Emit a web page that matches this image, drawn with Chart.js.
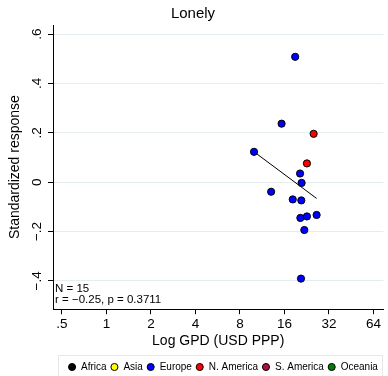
<!DOCTYPE html>
<html>
<head>
<meta charset="utf-8">
<script src="https://cdn.jsdelivr.net/npm/chart.js@4.4.1/dist/chart.umd.min.js"></script>
<style>
  html, body { margin: 0; padding: 0; background: #fff; }
  canvas { display: block; }
</style>
</head>
<body>
<canvas id="c" width="388" height="376"></canvas>
<script>
// ---- data ----
const chartTitle = "Lonely";
const xAxisTitle = "Log GPD (USD PPP)";
const yAxisTitle = "Standardized response";
const continents = ["Africa", "Asia", "Europe", "N. America", "S. America", "Oceania"];

const gdpAfrica = [];
const respAfrica = [];
const gdpAsia = [];
const respAsia = [];
const gdpEurope = [18.9, 15.3, 9.96, 20.4, 20.9, 13.0, 18.2, 20.8, 20.5, 22.7, 26.4, 21.8, 20.7];
const respEurope = [0.508, 0.237, 0.123, 0.035, -0.003, -0.039, -0.070, -0.074, -0.145, -0.139, -0.133, -0.194, -0.391];
const gdpNAmerica = [25.2, 22.7];
const respNAmerica = [0.196, 0.076];
const gdpSAmerica = [];
const respSAmerica = [];
const gdpOceania = [];
const respOceania = [];

const fitGdp = [9.96, 26.4];
const fitResp = [0.123, -0.066];

const xTickValues = [0.5, 1, 2, 4, 8, 16, 32, 64];
const xTickLabels = [".5", "1", "2", "4", "8", "16", "32", "64"];
const yTickValues = [-0.4, -0.2, 0, 0.2, 0.4, 0.6];
const yTickLabels = ["\u2212.4", "\u2212.2", "0", ".2", ".4", ".6"];
const statsLines = ["N = 15", "r = \u22120.25, p = 0.3711"];

// ---- styles ----
const continentColors = ["#000000", "#ffff00", "#0000ff", "#ff0000", "#b0103c", "#008000"];
const FONT = '"Liberation Sans", Arial, Helvetica, sans-serif';

const gdpSeries = [gdpAfrica, gdpAsia, gdpEurope, gdpNAmerica, gdpSAmerica, gdpOceania];
const respSeries = [respAfrica, respAsia, respEurope, respNAmerica, respSAmerica, respOceania];

const pts = (xs, ys) => xs.map((x, i) => ({ x: x, y: ys[i] }));

const datasets = continents.map((name, i) => ({
  type: 'scatter',
  label: name,
  data: pts(gdpSeries[i], respSeries[i]),
  backgroundColor: continentColors[i],
  borderColor: '#000',
  borderWidth: 1,
  pointRadius: 3.6,
  pointHoverRadius: 3.6,
  pointStyle: 'circle',
  order: 0
}));
datasets.push({
  type: 'line',
  label: 'fit',
  data: pts(fitGdp, fitResp),
  borderColor: '#000',
  borderWidth: 1,
  pointRadius: 0,
  fill: false,
  order: 10
});

Chart.defaults.font.family = FONT;
Chart.defaults.color = '#000';

const extras = {
  id: 'extras',
  afterLayout(chart) {
    const lg = chart.legend;
    if (lg) { lg.left += 30; lg.right += 30; lg.top += 6; lg.bottom += 6; }
  },
  afterDraw(chart) {
    const ctx = chart.ctx;
    const a = chart.chartArea;
    ctx.save();
    // legend frame
    ctx.strokeStyle = '#e2e8eb';
    ctx.lineWidth = 1;
    ctx.strokeRect(58.5, 355.5, 324, 30);
    // stats annotation
    ctx.fillStyle = '#000';
    ctx.font = '11.5px ' + FONT;
    ctx.textBaseline = 'middle';
    ctx.textAlign = 'left';
    statsLines.forEach((t, i) => ctx.fillText(t, a.left + 2, a.bottom - 20 + i * 11));
    ctx.restore();
  }
};

new Chart(document.getElementById('c'), {
  data: { datasets: datasets },
  options: {
    responsive: false,
    animation: false,
    layout: { padding: { left: 0, right: 2, top: 0, bottom: 0 } },
    plugins: {
      title: {
        display: true,
        text: chartTitle,
        font: { size: 15, weight: 'normal', family: FONT },
        color: '#000',
        padding: { top: 5, bottom: 2 }
      },
      legend: {
        display: true,
        position: 'bottom',
        labels: {
          usePointStyle: true,
          boxWidth: 8,
          boxHeight: 5,
          padding: 3.8,
          font: { size: 10, family: FONT },
          color: '#000',
          filter: (item) => item.text !== 'fit'
        }
      },
      tooltip: { enabled: false }
    },
    scales: {
      x: {
        type: 'logarithmic',
        position: 'bottom',
        min: 0.435,
        max: 74.7,
        afterBuildTicks: (s) => { s.ticks = xTickValues.map(v => ({ value: v })); },
        afterFit: (s) => { s.height = 43; },
        ticks: {
          autoSkip: false,
          maxRotation: 0,
          minRotation: 0,
          padding: 2,
          font: { size: 13.5, family: FONT },
          color: '#000',
          callback: (v, i) => xTickLabels[i]
        },
        grid: { display: true, drawOnChartArea: false, drawTicks: true, tickLength: 5, tickColor: '#000', color: '#000' },
        border: { display: true, color: '#000', width: 1 },
        title: { display: true, text: xAxisTitle, font: { size: 14, family: FONT }, color: '#000', padding: { top: 0, bottom: 3 } }
      },
      y: {
        type: 'linear',
        position: 'left',
        min: -0.515,
        max: 0.637,
        afterBuildTicks: (s) => { s.ticks = yTickValues.map(v => ({ value: v })); },
        afterFit: (s) => { s.width = 53; },
        ticks: {
          autoSkip: false,
          minRotation: 90,
          maxRotation: 90,
          crossAlign: 'center',
          padding: 1.5,
          font: { size: 13.5, family: FONT },
          color: '#000',
          callback: (v, i) => yTickLabels[i]
        },
        grid: { display: true, drawOnChartArea: true, drawTicks: true, tickLength: 5, tickColor: '#000', color: '#e6edf0', lineWidth: 1 },
        border: { display: true, color: '#000', width: 1 },
        title: { display: true, text: yAxisTitle, font: { size: 14, family: FONT }, color: '#000', padding: { top: 6.5, bottom: 0 } }
      }
    }
  },
  plugins: [extras]
});
</script>
</body>
</html>
